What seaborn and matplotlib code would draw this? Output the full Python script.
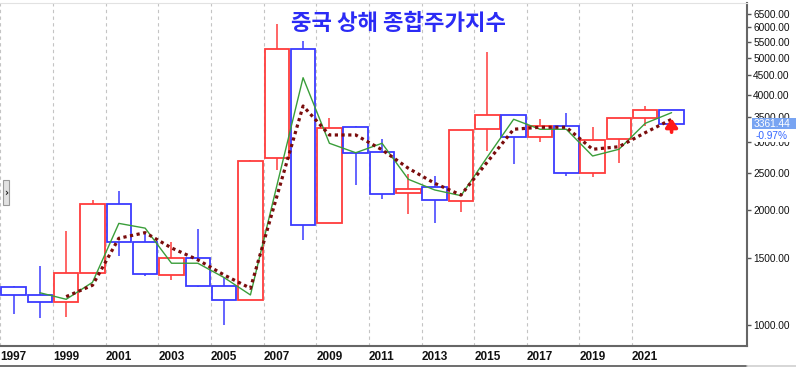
import numpy as np
import pandas as pd
import matplotlib
matplotlib.use("Agg")
import matplotlib.pyplot as plt
import matplotlib.ticker as mticker
from matplotlib.patches import Rectangle
from matplotlib.lines import Line2D
import seaborn as sns

# ---------------- data ----------------
years = list(range(1997, 2023))
opens = [1254, 1200.9, 1144.9, 1368.7, 2077.1, 1643.5, 1347.4, 1492.7, 1260.8, 1163.9,
         2728.2, 5265.0, 1849.0, 3289.8, 2825.3, 2212.0, 2289.5, 2112.1, 3258.6, 3536.6,
         3105.3, 3314.0, 2497.9, 3066.3, 3474.7, 3649.2]
highs = [1264, 1422.98, 1756.2, 2125.7, 2245.4, 1748.9, 1649.6, 1783.0, 1328.5, 2698.9,
         6124.0, 5522.8, 3478.0, 3306.8, 3067.5, 2478.4, 2444.8, 3239.4, 5178.2, 3538.7,
         3450.5, 3587.0, 3288.5, 3474.9, 3731.7, 3651.9]
lows = [1066, 1043.0, 1047.8, 1361.2, 1514.9, 1339.2, 1307.4, 1259.4, 998.2, 1161.9,
        2541.5, 1664.9, 1844.1, 2319.7, 2134.0, 1949.5, 1849.7, 1974.4, 2850.7, 2638.3,
        3016.5, 2449.2, 2440.9, 2646.8, 3312.7, 3355]
closes = [1194, 1146.7, 1366.6, 2073.5, 1645.97, 1357.65, 1497.04, 1266.5, 1161.06, 2675.47,
          5261.56, 1820.81, 3277.14, 2808.08, 2199.42, 2269.13, 2115.98, 3234.68, 3539.18, 3103.64,
          3307.17, 2493.90, 3050.12, 3473.07, 3639.78, 3361.44]

ma_short_years = list(range(1998, 2023))
ma_short = [1214, 1167, 1293, 1843, 1791, 1450, 1450, 1330, 1198, 2308,
            4430, 2985, 2820, 2985, 2403, 2254, 2178, 2749, 3449, 3248,
            3248, 2765, 2879, 3366, 3589]
ma_long_years = list(range(1999, 2023))
ma_long = [1186, 1270, 1685, 1743, 1590, 1480, 1351, 1247, 2164, 3736,
           3138, 3138, 2870, 2568, 2346, 2186, 2667, 3248, 3287, 3287,
           2879, 2924, 3182, 3449]

y_ticks = [1000, 1500, 2000, 2500, 3000, 3500, 4000, 4500, 5000, 5500, 6000, 6500]
x_tick_years = list(range(1997, 2022, 2))
title = "중국 상해 종합주가지수"
last_label = "3361.44"
change_label = "-0.97%"

# ---------------- style ----------------
sns.set_style("white")
plt.rcParams['font.family'] = ['Liberation Sans', 'DejaVu Sans']

RED = '#ff3c3c'
BLUE = '#3a3aff'

W, H = 796, 367
fig = plt.figure(figsize=(W / 100, H / 100), dpi=100)
ax = fig.add_axes([0, 21 / H, 747 / W, 343.5 / H])

df = pd.DataFrame(dict(year=years, open=opens, high=highs, low=lows, close=closes))
df['x'] = df['year'] + 0.5
up = df['close'] >= df['open']
colors = np.where(up, RED, BLUE)

ax.set_yscale('log')
ax.vlines(df['x'], df['low'], df['high'], colors=colors, lw=1.1, zorder=2)
ax.bar(df['x'], (df['close'] - df['open']).abs(),
       bottom=np.minimum(df['open'], df['close']), width=0.93,
       color='white', edgecolor=colors, linewidth=1.3, zorder=3)

s_df = pd.DataFrame(dict(x=np.array(ma_short_years) + 0.5, y=ma_short))
l_df = pd.DataFrame(dict(x=np.array(ma_long_years) + 0.5, y=ma_long))
sns.lineplot(data=s_df, x='x', y='y', ax=ax, color='#3a9e3a', lw=1.0, zorder=4)
sns.lineplot(data=l_df, x='x', y='y', ax=ax, color='#7a0c0c', lw=2.3,
             linestyle=(0, (1, 1.1)), zorder=5)

ax.annotate('', xy=(ma_long_years[-1] + 0.5, ma_long[-1] * 1.005),
            xytext=(ma_long_years[-1] + 0.5, ma_long[-1] * 0.925),
            arrowprops=dict(arrowstyle='-|>,head_length=0.5,head_width=0.35', color='#ff1a1a',
                            lw=2.6, mutation_scale=10, shrinkA=0, shrinkB=0),
            zorder=6)

ax.set_xlim(1996.985, 2025.366)
ax.set_ylim(881, 6966)
ax.set_xlabel('')
ax.set_ylabel('')

# y axis on the right
ax.yaxis.tick_right()
ax.set_yticks(y_ticks)
ax.yaxis.set_major_formatter(mticker.FuncFormatter(lambda v, p: f'{v:.2f}'))
ax.yaxis.set_minor_locator(mticker.NullLocator())
ax.tick_params(axis='y', which='major', direction='out', length=3.2, width=1,
               color='#555', pad=1.2, labelsize=7.3, labelcolor='#111')

# x axis
ax.set_xticks(x_tick_years)
ax.set_xticklabels([str(y) for y in x_tick_years], ha='left', fontweight='bold')
ax.xaxis.set_minor_locator(mticker.NullLocator())
ax.tick_params(axis='x', direction='out', length=13.7, width=1, color='#555',
               pad=-9.8, labelsize=8.5, labelcolor='#111')
ax.grid(axis='x', color='#c4c4c4', ls=(0, (3, 3)), lw=0.8)
ax.grid(axis='y', visible=False)

ax.spines['left'].set_visible(False)
ax.spines['top'].set_color('#e2e2e2')
ax.spines['top'].set_linewidth(0.8)
ax.spines['right'].set_color('#666')
ax.spines['right'].set_linewidth(1.5)
ax.spines['bottom'].set_color('#666')
ax.spines['bottom'].set_linewidth(1.5)

# bottom strip line
fig.add_artist(Line2D([0, 747 / W], [1 - 365.5 / H] * 2, color='#555', lw=1.2))
fig.add_artist(Line2D([747 / W, 1], [1 - 365.5 / H] * 2, color='#cfcfcf', lw=1.2))

# title
fig.text(398.5 / W, 1 - 24 / H, title, ha='center', va='center', fontsize=16,
         color='#2b2bf5', family=['Noto Sans CJK KR', 'DejaVu Sans'], fontweight='bold')

# last price label (drawn above the axis tick labels)
y_disp = ax.transData.transform((2000, closes[-1]))[1]
yf = y_disp / H
fig.add_artist(Rectangle((752 / W, yf - 5.2 / H), 44 / W, 10.4 / H,
                         transform=fig.transFigure, fc='#78a4f2', ec='none', zorder=10))
fig.text(771.5 / W, yf, last_label, ha='center', va='center', fontsize=7.3,
         color='white', zorder=11)
fig.add_artist(Rectangle((752 / W, yf - 18 / H), 44 / W, 12.6 / H,
                         transform=fig.transFigure, fc='white', ec='none', zorder=10))
fig.text(772 / W, yf - 12 / H, change_label, ha='center', va='center', fontsize=7.3,
         color='#3366ff', zorder=11)

# small side button
fig.add_artist(Rectangle((3 / W, 1 - 205 / H), 5.5 / W, 25 / H, transform=fig.transFigure,
                         fc='#e2e2e2', ec='#9a9a9a', lw=0.8, zorder=10))
fig.text(5.8 / W, 1 - 192.5 / H, '›', ha='center', va='center', fontsize=7,
         fontweight='bold', color='#222', family=['DejaVu Sans'], zorder=11)

fig.savefig('out.png', dpi=100)
